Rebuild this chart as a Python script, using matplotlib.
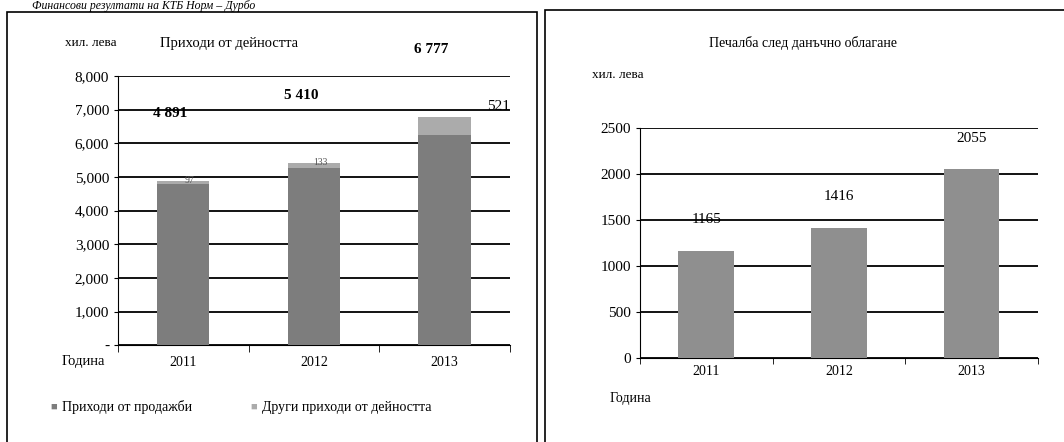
import matplotlib.pyplot as plt
from matplotlib.patches import Rectangle
from matplotlib.ticker import FuncFormatter

# data
years = ['2011', '2012', '2013']
sales = [4794, 5277, 6256]
other = [97, 133, 521]
totals = [4891, 5410, 6777]
profit = [1165, 1416, 2055]

plt.rcParams['font.family'] = ['Liberation Serif', 'DejaVu Serif']
plt.rcParams['font.size'] = 10

fig = plt.figure(figsize=(10.64, 4.42), dpi=100)

# page heading and panel frames
fig.text(0.03, 0.999, 'Финансови резултати на КТБ Норм – Дурбо', fontsize=8.5,
         style='italic', va='top', ha='left')
fig.add_artist(Rectangle((7 / 1064, -0.01), 530 / 1064, 1 - 12 / 442 + 0.01,
                         transform=fig.transFigure, fill=False, lw=1.2, ec='black'))
fig.add_artist(Rectangle((545 / 1064, -0.01), 525 / 1064, 1 - 10 / 442 + 0.01,
                         transform=fig.transFigure, fill=False, lw=1.2, ec='black'))

x = range(len(years))

# left: revenue
ax1 = fig.add_axes([0.111, 0.219, 0.368, 0.609])
ax1.bar(x, sales, width=0.4, color='#7d7d7d', zorder=3)
ax1.bar(x, other, width=0.4, bottom=sales, color='#ababab', zorder=3)
ax1.set_ylim(0, 8000)
ax1.set_xlim(-0.5, 2.5)
ax1.set_yticks(range(0, 8001, 1000))
ax1.yaxis.set_major_formatter(FuncFormatter(lambda v, p: '-' if v == 0 else f'{int(v):,}'))
ax1.grid(axis='y', color='black', lw=1.3, zorder=1)
ax1.set_xticks(list(x))
ax1.set_xticklabels(years)
ax1.set_xticks([-0.5, 0.5, 1.5, 2.5], minor=True)
ax1.tick_params(axis='x', which='major', length=0, pad=8)
ax1.tick_params(axis='x', which='minor', length=5)
ax1.tick_params(axis='y', length=3, labelsize=11)
for s in ['top', 'right']:
    ax1.spines[s].set_visible(False)
ax1.spines['left'].set_linewidth(0.8)
for i, t in enumerate(totals):
    ax1.text(i - 0.1, t + 1900, f'{t:,}'.replace(',', ' '), ha='center',
             fontsize=11, fontweight='bold')
ax1.text(2.33, totals[2] + 200, str(other[2]), ha='left', fontsize=11)
for i in range(2):
    ax1.text(i + 0.05, totals[i] - 60, str(other[i]), ha='center', fontsize=7,
             color='#555555', zorder=4)
fig.text(0.061, 0.902, 'хил. лева', fontsize=9.5, ha='left', va='center')
fig.text(0.215, 0.902, 'Приходи от дейността', fontsize=10.5, ha='center', va='center')
fig.text(0.058, 0.181, 'Година', fontsize=10.5, ha='left', va='center')

# legend
fig.text(0.047, 0.079, '■', fontsize=8, color='#7d7d7d', va='center')
fig.text(0.058, 0.079, 'Приходи от продажби', fontsize=10, va='center')
fig.text(0.235, 0.079, '■', fontsize=8, color='#ababab', va='center')
fig.text(0.246, 0.079, 'Други приходи от дейността', fontsize=10, va='center')

# right: profit after tax
ax2 = fig.add_axes([0.6015, 0.190, 0.374, 0.520])
ax2.bar(x, profit, width=0.42, color='#8f8f8f', zorder=3)
ax2.set_ylim(0, 2500)
ax2.set_xlim(-0.5, 2.5)
ax2.set_yticks(range(0, 2501, 500))
ax2.grid(axis='y', color='black', lw=1.3, zorder=1)
ax2.set_xticks(list(x))
ax2.set_xticklabels(years)
ax2.set_xticks([-0.5, 0.5, 1.5, 2.5], minor=True)
ax2.tick_params(axis='x', which='major', length=0, pad=5)
ax2.tick_params(axis='x', which='minor', length=4)
ax2.tick_params(axis='y', length=3, labelsize=11)
for s in ['top', 'right']:
    ax2.spines[s].set_visible(False)
for i, p in enumerate(profit):
    ax2.text(i, p + 300, str(p), ha='center', fontsize=11)
fig.text(0.755, 0.902, 'Печалба след данъчно облагане', fontsize=10, ha='center', va='center')
fig.text(0.556, 0.831, 'хил. лева', fontsize=9.5, ha='left', va='center')
fig.text(0.573, 0.098, 'Година', fontsize=10, ha='left', va='center')

fig.savefig('out.png', dpi=100)
